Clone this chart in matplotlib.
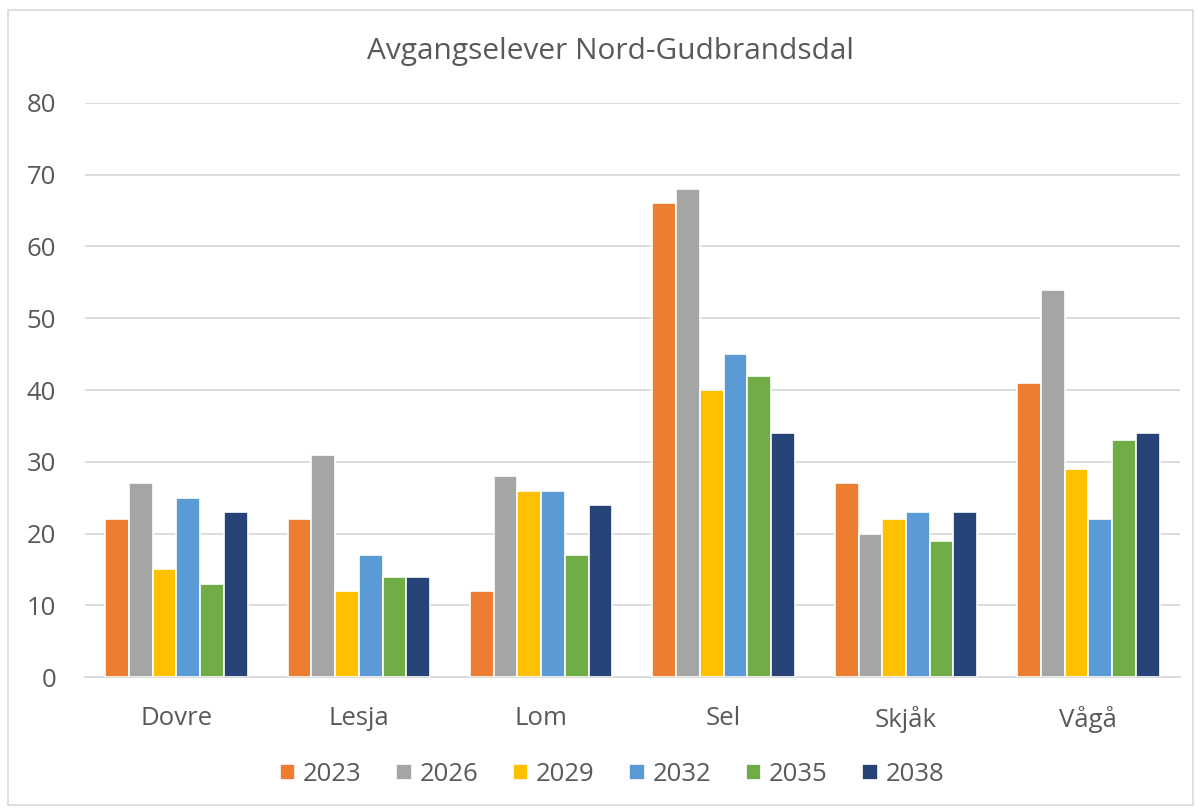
import matplotlib
matplotlib.use("Agg")
import matplotlib.pyplot as plt
import numpy as np
from matplotlib.patches import Rectangle

plt.rcParams["font.family"] = ["Open Sans", "DejaVu Sans"]

# data
kommuner = ["Dovre", "Lesja", "Lom", "Sel", "Skjåk", "Vågå"]
years = ["2023", "2026", "2029", "2032", "2035", "2038"]
v2023 = [22, 22, 12, 66, 27, 41]
v2026 = [27, 31, 28, 68, 20, 54]
v2029 = [15, 12, 26, 40, 22, 29]
v2032 = [25, 17, 26, 45, 23, 22]
v2035 = [13, 14, 17, 42, 19, 33]
v2038 = [23, 14, 24, 34, 23, 34]
series = [v2023, v2026, v2029, v2032, v2035, v2038]

COLORS = ["#ED7D31", "#A5A5A5", "#FFC000", "#5B9BD5", "#70AD47", "#264478"]
TXT = "#595959"
GRID = "#D9D9D9"

fig = plt.figure(figsize=(12, 8.1), dpi=100)
fig.patches.append(Rectangle((8 / 1200, 5 / 810), 1185 / 1200, 795 / 810,
                             transform=fig.transFigure, fill=False,
                             edgecolor="#D9D9D9", linewidth=1.2))

ax = fig.add_axes([0.071, 0.164, 0.912, 0.709])

x = np.arange(len(kommuner))
w = 0.13
for i, (vals, col, yr) in enumerate(zip(series, COLORS, years)):
    ax.bar(x + (i - 2.5) * w, vals, w, color=col, edgecolor="white",
           linewidth=1.2, label=yr, zorder=3)

ax.set_xlim(-0.5, len(kommuner) - 0.5)
ax.set_ylim(0, 80)
ax.set_yticks(range(0, 81, 10))
ax.grid(True, axis="y", color=GRID, linewidth=1.3, zorder=0)
for s in ["top", "right", "left"]:
    ax.spines[s].set_visible(False)
ax.spines["bottom"].set_color(GRID)
ax.spines["bottom"].set_linewidth(1.3)
ax.set_xticks(x)
ax.set_xticklabels(kommuner)
ax.tick_params(axis="both", length=0, labelsize=18.5, labelcolor=TXT)
ax.tick_params(axis="y", pad=21)
ax.tick_params(axis="x", pad=21)

fig.text(0.509, 0.937, "Avgangselever Nord-Gudbrandsdal", ha="center", va="center",
         fontsize=21.5, color=TXT)

fig.legend(loc="center", bbox_to_anchor=(0.51, 0.044), ncol=6, frameon=False,
           fontsize=18.5, labelcolor=TXT, handlelength=0.6, handleheight=0.6,
           handletextpad=0.3, columnspacing=1.35)

fig.savefig("out.png", dpi=100, facecolor="white")
